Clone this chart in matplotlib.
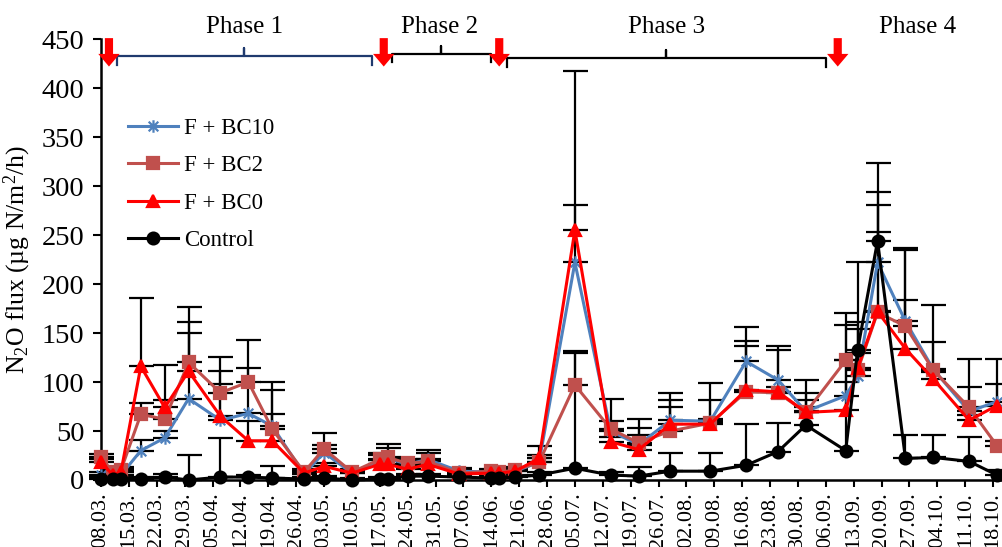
import matplotlib
matplotlib.use('Agg')
import matplotlib.pyplot as plt
import matplotlib.dates as mdates
from matplotlib.path import Path
import numpy as np
import pandas as pd

plt.rcParams['font.family'] = ['Liberation Serif', 'DejaVu Serif']
plt.rcParams['mathtext.fontset'] = 'custom'
plt.rcParams['mathtext.rm'] = 'Liberation Serif'
plt.rcParams['mathtext.it'] = 'Liberation Serif:italic'

# sampling dates (year is arbitrary, only day/month shown)
sample_dates = ['2021-03-08', '2021-03-11', '2021-03-13', '2021-03-18', '2021-03-24',
                '2021-03-30', '2021-04-07', '2021-04-14', '2021-04-20', '2021-04-28',
                '2021-05-03', '2021-05-10', '2021-05-17', '2021-05-19', '2021-05-24',
                '2021-05-29', '2021-06-06', '2021-06-14', '2021-06-16', '2021-06-20',
                '2021-06-26', '2021-07-05', '2021-07-14', '2021-07-21', '2021-07-29',
                '2021-08-08', '2021-08-17', '2021-08-25', '2021-09-01', '2021-09-11',
                '2021-09-14', '2021-09-19', '2021-09-26', '2021-10-03', '2021-10-12',
                '2021-10-19']

bc10 = [5, 2, 5, 30, 43, 83, 61, 68, 55, 6, 28, 7, 20, 22, 16, 21, 9, 8, 8, 9,
        18, 222, 50, 36, 61, 60, 121, 102, 70, 86, 106, 222, 162, 113, 70, 80]
bc2 = [23, 8, 10, 67, 62, 120, 89, 100, 52, 8, 32, 8, 21, 23, 17, 19, 7, 9, 8, 10,
       18, 97, 52, 38, 50, 58, 90, 89, 69, 122, 112, 171, 157, 112, 74, 35]
bc0 = [18, 5, 8, 116, 74, 111, 65, 40, 40, 7, 14, 7, 16, 16, 11, 16, 6, 7, 7, 9,
       22, 255, 39, 31, 57, 57, 92, 90, 69, 71, 114, 172, 134, 103, 61, 76]
control = [1, 1, 1, 1, 3, 0, 3, 3, 2, 1, 2, 0, 1, 1, 4, 4, 3, 2, 2, 3,
           5, 12, 5, 4, 9, 9, 15, 29, 56, 30, 133, 244, 22, 23, 19, 5]

# upper standard errors
bc10_err = [3, 2, 3, 11, 7, 67, 37, 46, 45, 3, 8, 3, 6, 11, 4, 10, 3, 2, 2, 3,
            4, 195, 10, 26, 28, 39, 35, 35, 19, 72, 24, 72, 75, 66, 25, 44]
bc2_err = [4, 2, 3, 12, 20, 57, 37, 43, 40, 3, 16, 3, 7, 14, 4, 9, 3, 2, 2, 3,
           8, 35, 31, 15, 24, 24, 47, 44, 13, 48, 49, 110, 78, 29, 49, 5]
bc0_err = [3, 2, 3, 70, 43, 50, 46, 20, 27, 3, 3, 3, 4, 4, 3, 4, 3, 2, 2, 3,
           13, 26, 5, 15, 25, 5, 50, 5, 6, 51, 40, 81, 50, 7, 5, 22]
control_err = [2, 2, 2, 2, 3, 25, 40, 2, 12, 2, 2, 2, 2, 2, 2, 2, 2, 2, 2, 2,
               3, 118, 3, 9, 19, 19, 42, 29, 46, 70, 90, 80, 24, 23, 25, 5]

labels = ['F + BC10', 'F + BC2', 'F + BC0', 'Control']

# phases: bracket start, end and label
phase_names = ['Phase 1', 'Phase 2', 'Phase 3', 'Phase 4']
phase_label_x = ['2021-04-13', '2021-06-01', '2021-07-28', '2021-09-29']
bracket_start = ['2021-03-12', '2021-05-20', '2021-06-18']
bracket_end = ['2021-05-15', '2021-06-14', '2021-09-06']
bracket_level = [432.5, 435, 430.5]
bracket_color = ['#1f3a6e', 'black', 'black']
# fertilisation events (red arrows)
fert_dates = ['2021-03-10', '2021-05-18', '2021-06-16', '2021-09-09']

x = pd.to_datetime(sample_dates)

# excel-like asterisk marker: x plus vertical bar
star = Path([(-1, -1), (1, 1), (-1, 1), (1, -1), (0, -1.3), (0, 1.3)],
            [Path.MOVETO, Path.LINETO, Path.MOVETO, Path.LINETO, Path.MOVETO, Path.LINETO])

fig = plt.figure(figsize=(10.03, 5.47), dpi=100)
ax = fig.add_axes([0.1007, 0.1225, 0.8993, 0.806])

series = [
    (bc10, bc10_err, '#4f81bd', star, 9),
    (bc2, bc2_err, '#c0504d', 's', 8.5),
    (bc0, bc0_err, '#ff0000', '^', 9),
    (control, control_err, 'black', 'o', 8.5),
]

for (vals, err, col, mk, ms), lab in zip(series, labels):
    ax.errorbar(x, vals, yerr=[np.zeros(len(err)), err], fmt='none', ecolor='black',
                elinewidth=1.6, capsize=9, capthick=1.6, zorder=1, clip_on=False)
for (vals, err, col, mk, ms), lab in zip(series, labels):
    ax.plot(x, vals, color=col, lw=2.2, marker=mk, ms=ms, mfc=col, mec=col,
            mew=1.6, label=lab, zorder=3, clip_on=False)

ticks = pd.date_range('2021-03-08', '2021-10-18', freq='7D')
ax.set_xticks(ticks)
ax.xaxis.set_major_formatter(mdates.DateFormatter('%d.%m.'))
x0 = mdates.date2num(pd.Timestamp('2021-03-08'))
ax.set_xlim(x0, x0 + 226.5)
ax.set_ylim(0, 450)
ax.set_yticks(np.arange(0, 451, 50))
ax.tick_params(axis='x', labelrotation=90, labelsize=16, length=5, width=1.5, pad=4)
ax.tick_params(axis='y', labelsize=20.5, length=6, width=1.5, pad=6)
for s in ['top', 'right']:
    ax.spines[s].set_visible(False)
for s in ['left', 'bottom']:
    ax.spines[s].set_linewidth(1.8)
ax.set_ylabel('N$_2$O flux (µg N/m$^2$/h)', fontsize=18.5, labelpad=6)

leg = ax.legend(loc='upper left', bbox_to_anchor=(0.03, 0.822), frameon=False,
                fontsize=16.5, handlelength=2.2, handletextpad=0.25,
                labelspacing=0.72, borderpad=0, borderaxespad=0)

# brackets above the phases
for s, e, lv, c in zip(bracket_start, bracket_end, bracket_level, bracket_color):
    s = mdates.date2num(pd.Timestamp(s))
    e = mdates.date2num(pd.Timestamp(e))
    m = (s + e) / 2
    ax.plot([s, s, m, m, m, e, e], [lv - 8.5, lv, lv, lv + 8, lv, lv, lv - 8.5],
            color=c, lw=1.6, clip_on=False, zorder=4, solid_joinstyle='round')

for name, px in zip(phase_names, phase_label_x):
    ax.text(pd.Timestamp(px), 462, name, ha='center', va='center', fontsize=18,
            clip_on=False)

for d in fert_dates:
    d = pd.Timestamp(d)
    ax.annotate('', xy=(d, 422), xytext=(d, 451), annotation_clip=False,
                arrowprops=dict(arrowstyle='simple,head_length=0.65,head_width=1.1,tail_width=0.42',
                                color='red', lw=0, shrinkA=0, shrinkB=0,
                                mutation_scale=14), zorder=5)

fig.savefig('out.png', dpi=100)
